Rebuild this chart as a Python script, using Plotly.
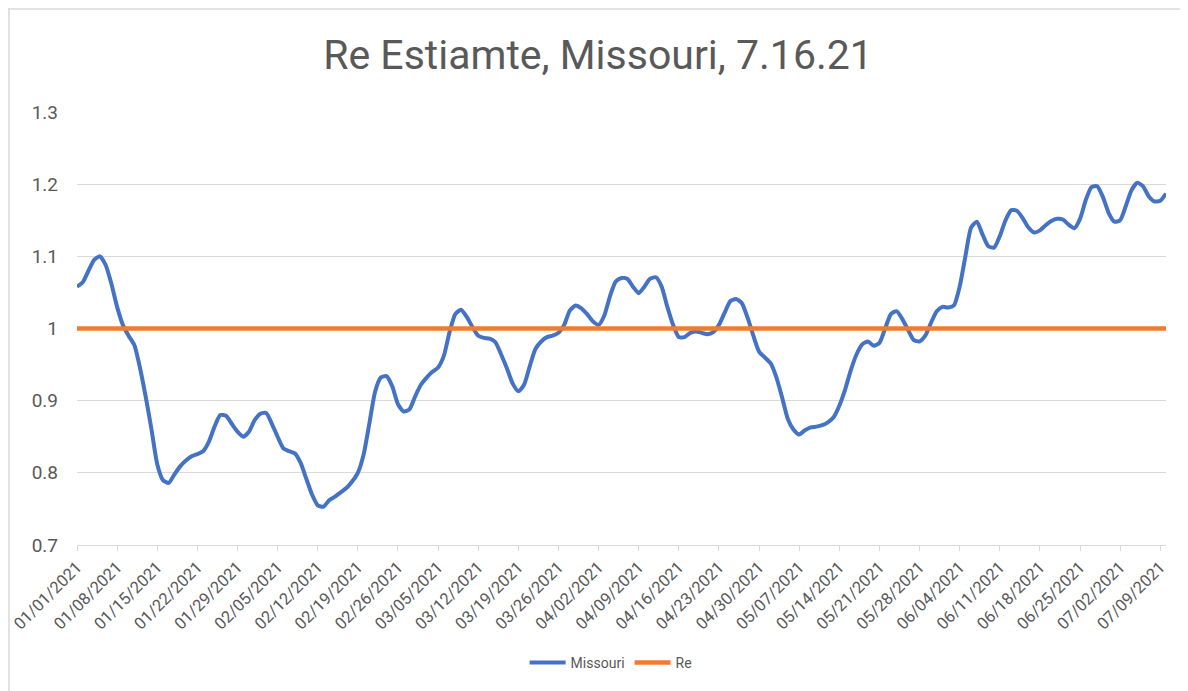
import pandas as pd
import plotly.graph_objects as go

start_date = "2021-01-01"
missouri = [
    1.058, 1.064, 1.080, 1.095, 1.100, 1.088, 1.062, 1.030, 1.005, 0.990,
    0.977, 0.945, 0.905, 0.860, 0.812, 0.790, 0.786, 0.798, 0.809, 0.817,
    0.823, 0.826, 0.830, 0.843, 0.864, 0.880, 0.879, 0.868, 0.857, 0.850,
    0.857, 0.873, 0.882, 0.883, 0.868, 0.850, 0.834, 0.830, 0.827, 0.814,
    0.792, 0.770, 0.755, 0.753, 0.762, 0.767, 0.773, 0.779, 0.788, 0.800,
    0.825, 0.868, 0.912, 0.932, 0.934, 0.920, 0.895, 0.885, 0.888, 0.906,
    0.922, 0.932, 0.940, 0.946, 0.962, 0.995, 1.020, 1.026, 1.016, 1.002,
    0.990, 0.987, 0.986, 0.981, 0.964, 0.945, 0.924, 0.913, 0.922, 0.948,
    0.972, 0.982, 0.988, 0.990, 0.994, 1.005, 1.025, 1.032, 1.028, 1.020,
    1.010, 1.005, 1.018, 1.045, 1.065, 1.070, 1.069, 1.058, 1.049, 1.058,
    1.069, 1.071, 1.058, 1.030, 1.005, 0.988, 0.988, 0.994, 0.996, 0.994,
    0.992, 0.995, 1.005, 1.022, 1.038, 1.041, 1.035, 1.015, 0.990, 0.968,
    0.960, 0.952, 0.933, 0.905, 0.875, 0.860, 0.853, 0.859, 0.863, 0.864,
    0.866, 0.870, 0.877, 0.893, 0.915, 0.942, 0.964, 0.978, 0.982, 0.976,
    0.980, 1.000, 1.020, 1.024, 1.013, 0.998, 0.984, 0.982, 0.990, 1.008,
    1.024, 1.030, 1.029, 1.032, 1.058, 1.100, 1.140, 1.148, 1.130, 1.114,
    1.112, 1.128, 1.150, 1.164, 1.163, 1.153, 1.140, 1.133, 1.136, 1.143,
    1.149, 1.152, 1.151, 1.144, 1.139, 1.152, 1.178, 1.196, 1.197, 1.182,
    1.160, 1.148, 1.150, 1.170, 1.192, 1.202, 1.197, 1.183, 1.176, 1.177,
    1.187,
]
re_level = 1.0
dates = pd.date_range(start_date, periods=len(missouri), freq="D")
re_values = [re_level] * len(dates)
tick_dates = pd.date_range(start_date, "2021-07-09", freq="7D")
y_ticks = [0.7, 0.8, 0.9, 1.0, 1.1, 1.2, 1.3]
y_tick_text = ["0.7", "0.8", "0.9", "1", "1.1", "1.2", "1.3"]

FONT = "Roboto, Arial, sans-serif"
GREY = "#595959"

# page body has an 8px default margin, so the figure is drawn 8px in from top-left
W, H = 1180, 683
ML, MR, MT, MB = 69, 22, 104, 146
PH = H - MT - MB
PW = W - ML - MR

fig = go.Figure()
fig.add_trace(go.Scatter(x=dates, y=missouri, mode="lines", name="Missouri",
                         line=dict(color="#4472C4", width=4, shape="spline", smoothing=0.6)))
fig.add_trace(go.Scatter(x=dates, y=re_values, mode="lines", name="Re",
                         line=dict(color="#ED7D31", width=4.5)))

# sheet frame lines (top and left edges)
fig.add_shape(type="line", xref="paper", yref="paper",
              x0=-ML / PW, x1=1 + MR / PW, y0=1 + (MT - 1) / PH, y1=1 + (MT - 1) / PH,
              line=dict(color="#d9d9d9", width=1.5))
fig.add_shape(type="line", xref="paper", yref="paper",
              x0=-(ML - 1) / PW, x1=-(ML - 1) / PW, y0=-MB / PH, y1=1 + MT / PH,
              line=dict(color="#d9d9d9", width=1.5))

fig.update_layout(
    width=W, height=H,
    paper_bgcolor="white", plot_bgcolor="white",
    margin=dict(l=ML, r=MR, t=MT, b=MB, autoexpand=False),
    title=dict(text="Re Estiamte, Missouri, 7.16.21", x=0.5, xanchor="center",
               y=1 - 47 / H, yanchor="middle",
               font=dict(family=FONT, size=41, color=GREY)),
    font=dict(family=FONT, color=GREY),
    showlegend=True,
    legend=dict(orientation="h", x=0.49, xanchor="center", y=-118 / PH, yanchor="middle",
                font=dict(family=FONT, size=14, color=GREY), itemwidth=36),
    xaxis=dict(type="date", range=[dates[0], dates[-1]],
               tickvals=list(tick_dates), tickformat="%m/%d/%Y", tickangle=-45,
               tickfont=dict(family=FONT, size=16.5, color=GREY),
               showgrid=False, showline=True, linecolor="#d9d9d9", linewidth=1,
               ticks="outside", ticklen=5, tickcolor="#d9d9d9", zeroline=False,
               automargin=False),
    yaxis=dict(range=[0.7, 1.3], tickvals=y_ticks, ticktext=y_tick_text,
               tickfont=dict(family=FONT, size=19, color=GREY),
               showgrid=True, gridcolor="#d9d9d9", gridwidth=1,
               zeroline=False, showline=False, ticks="", ticklabelstandoff=18,
               automargin=False),
)
fig.write_html("out.html")
